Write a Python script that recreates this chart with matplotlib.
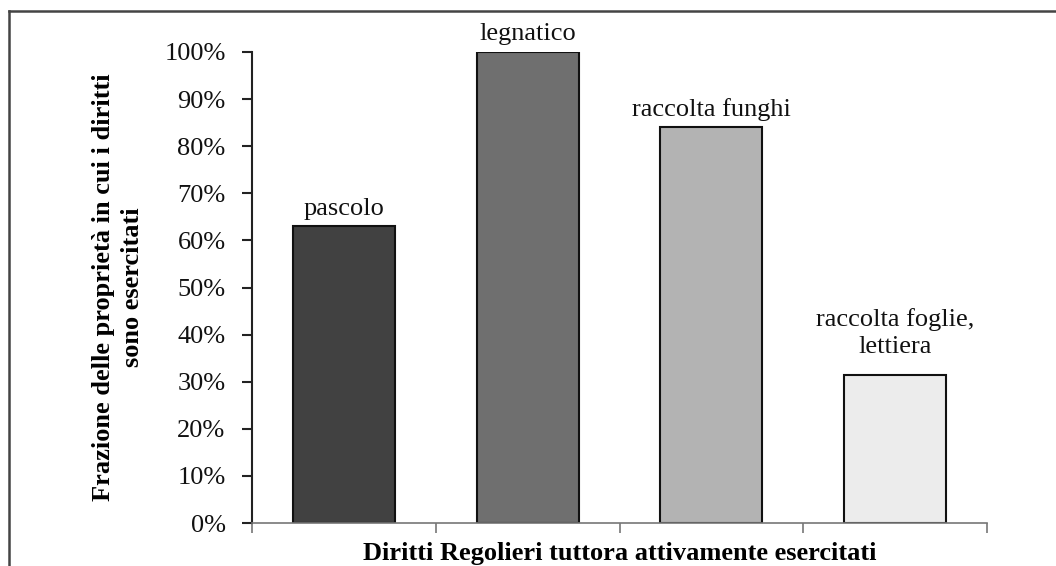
import matplotlib
matplotlib.use("Agg")
import matplotlib.pyplot as plt
import matplotlib.lines as mlines
from matplotlib.ticker import FuncFormatter

# Data
categories = ["pascolo", "legnatico", "raccolta funghi", "raccolta foglie,\nlettiera"]
values = [0.63, 1.00, 0.84, 0.315]
colors = ["#414141", "#6f6f6f", "#b3b3b3", "#ececec"]
ylabel = "Frazione delle proprietà in cui i diritti\nsono esercitati"
xlabel = "Diritti Regolieri tuttora attivamente esercitati"

plt.rcParams['font.family'] = ['Liberation Serif', 'DejaVu Serif']
fs = 19

fig = plt.figure(figsize=(10.56, 5.66), dpi=100)
ax = fig.add_axes([252/1056, 1 - 523/566, (987 - 252)/1056, (523 - 52)/566])

x = list(range(len(categories)))
ax.bar(x, values, width=0.555, color=colors, edgecolor="#111111", linewidth=1.5, zorder=2)

for xi, v, c in zip(x, values, categories):
  # multi-line label sits a bit higher above its bar
  pad = 0.014 if "\n" not in c else 0.035
  ax.text(xi, v + pad, c, ha='center', va='bottom', fontsize=fs, color="#111111",
          linespacing=1.3, clip_on=False)

ax.set_xlim(-0.5, len(categories) - 0.5)
ax.set_ylim(0, 1)
ax.set_yticks([i / 10 for i in range(11)])
ax.yaxis.set_major_formatter(FuncFormatter(lambda v, p: "{:.0f}%".format(v * 100)))
ax.set_xticks([i - 0.5 for i in range(len(categories) + 1)])
ax.set_xticklabels([])

for s in ['top', 'right']:
  ax.spines[s].set_visible(False)
ax.spines['left'].set_color("#222222")
ax.spines['left'].set_linewidth(1.5)
ax.spines['bottom'].set_color("#777777")
ax.spines['bottom'].set_linewidth(1.2)
ax.tick_params(axis='y', direction='out', length=7, width=1.5, color="#222222",
               labelsize=fs, pad=12, labelcolor="#111111")
ax.tick_params(axis='x', direction='out', length=7, width=1.2, color="#777777")

ax.set_ylabel(ylabel, fontsize=fs, fontweight='bold', linespacing=1.35)
ax.yaxis.set_label_coords(-0.147, 0.5)
ax.set_xlabel(xlabel, fontsize=fs, fontweight='bold', labelpad=3)

# Outer frame around the figure
fig.add_artist(mlines.Line2D([9/1056, 9/1056], [0, 1 - 11/566], color="#444444", lw=1.8))
fig.add_artist(mlines.Line2D([9/1056, 1], [1 - 11/566, 1 - 11/566], color="#444444", lw=1.8))

fig.savefig("out.png", dpi=100)
